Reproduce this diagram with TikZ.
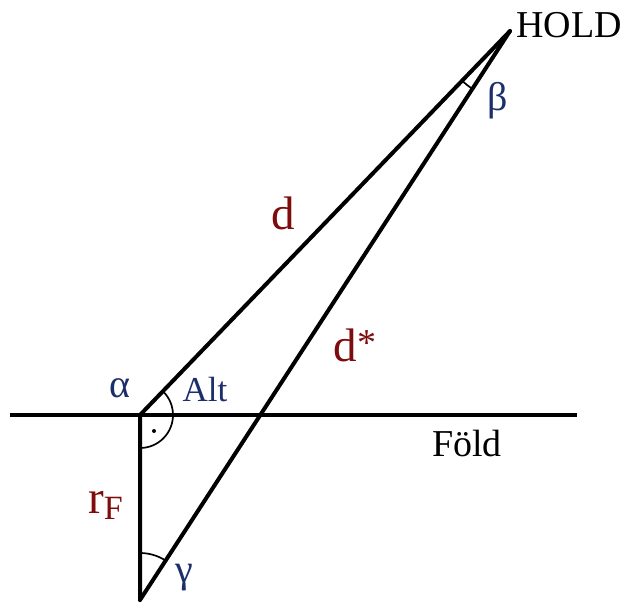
\documentclass[tikz,border=0pt]{standalone}
\usepackage{fontspec}
\setmainfont{Liberation Serif}
\usetikzlibrary{calc}
\definecolor{lblblue}{HTML}{1C2F6B}
\definecolor{lblred}{HTML}{7F0C0C}
\begin{document}
\begin{tikzpicture}[x=1pt,y=-1pt,
  geo/.style={line width=4pt},
  thin arc/.style={line width=1.7pt},
  lbl/.style={inner sep=0pt,font=\fontsize{38}{44}\selectfont},
  blu/.style={lbl,text=lblblue,font=\fontsize{40}{44}\selectfont},
  rd/.style={lbl,text=lblred,font=\fontsize{47}{52}\selectfont}]
\useasboundingbox (0,0) rectangle (624,603);
\coordinate (A) at (140,415);
\coordinate (H) at (510,31);
\coordinate (B) at (140,600);
\coordinate (L) at (10,415);
\coordinate (R) at (577,415);
% lines
\draw[geo] (L) -- (R);
\draw[geo,line cap=round] (B) -- (A) -- (H);
\draw[geo,line cap=round] (B) -- (H);
% angle marks
\draw[thin arc] ($(A)+(-46:33)$) arc[start angle=-46,end angle=90,radius=33];
\fill (154,431) circle[radius=2];
\draw[thin arc] ($(B)+(-90:47)$) arc[start angle=-90,end angle=-57,radius=47];
\draw[thin arc] ($(H)+(134:69)$) arc[start angle=134,end angle=123,radius=69];
% labels
\node[lbl,anchor=west] (hold) at (516,25) {HOLD};
\node[lbl] (fold) at (467,443) {Föld};
\node[blu] (alpha) at (120,388) {α};
\node[blu,font=\fontsize{35}{40}\selectfont] (alt) at (205,390) {Alt};
\node[blu] (beta) at (498,101) {β};
\node[blu] (gamma) at (184,578) {γ};
\node[rd] (d) at (283,213) {d};
\node[rd] (ds) at (355,345) {d\raisebox{0.25ex}{\fontsize{38}{40}\selectfont *}};
\node[rd,anchor=base west] (rf) at (88,513) {r\raisebox{-0.3ex}{\fontsize{34}{38}\selectfont F}};
\end{tikzpicture}
\end{document}
